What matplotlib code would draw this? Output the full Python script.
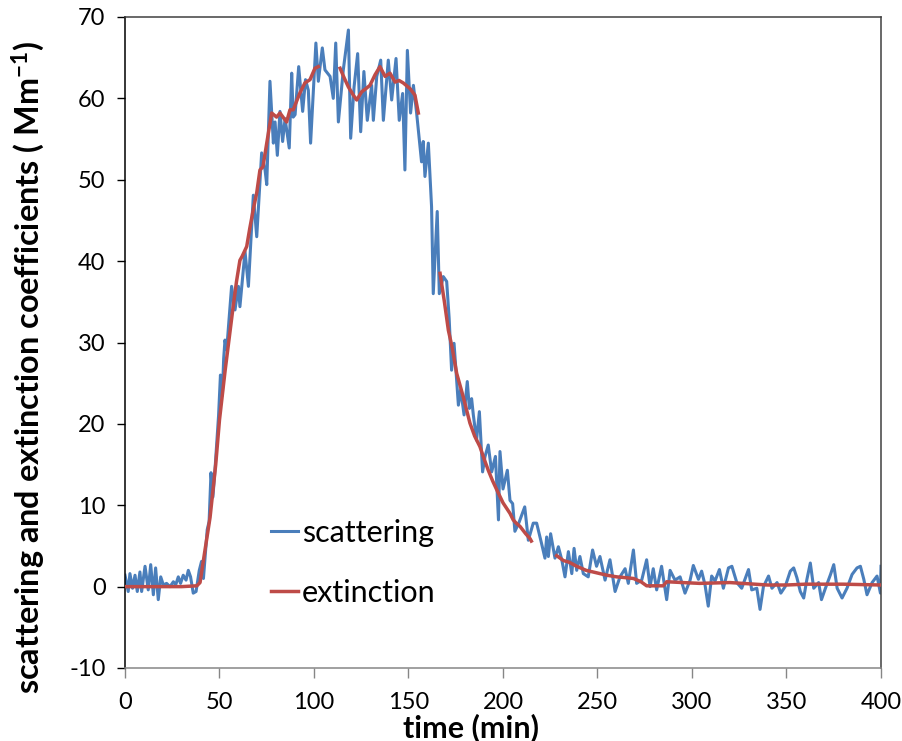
import numpy as np
import matplotlib
matplotlib.use('Agg')
import matplotlib.pyplot as plt

# scattering coefficient (time in min, value in Mm-1)
scat_t = [0, 1.7, 2.6, 4.0, 5.3, 6.5, 7.9, 8.8, 10.6, 12.3, 13.6, 15.0, 16.2, 17.6, 18.9, 20.3,
          22.0, 23.8, 25.6, 26.8, 28.2, 29.4, 30.8, 32.3, 33.5, 34.7, 36.1, 37.6, 39.3, 40.5,
          41.5, 42.5, 43.5, 44.5, 45.5, 46.5, 47.5, 48.5, 49.5, 50.5, 51.5, 52.2, 52.9, 53.8,
          56.4, 58.2, 60.0, 60.8, 63.5, 65.3, 67.9, 69.7, 72.3, 74.1, 75.0, 76.7, 78.5, 79.4,
          80.6, 82.0, 83.4, 84.7, 86.9, 88.2, 89.0, 90.0, 91.9, 94.0, 95.5, 97.0, 98.2, 101.0,
          102.3, 104.4, 105.8, 108.5, 110.2, 111.5, 112.9, 115.5, 118.2, 119.4, 121.2, 123.1,
          124.7, 126.4, 128.2, 130.5, 131.4, 133.2, 135.3, 136.7, 139.3, 141.1, 143.4, 145.1,
          146.9, 148.1, 149.4, 151.1, 152.6, 154.3, 155.7, 156.9, 157.8, 158.7, 160.5, 161.4,
          162.2, 163.1, 165.2, 166.3, 168.4, 170.2, 171.5, 172.8, 174.1, 176.4, 177.6, 179.4,
          181.1, 182.2, 183.4, 184.3, 186.0, 187.5, 189.2, 190.5, 192.2, 194.0, 196.0, 197.6,
          198.4, 200.0, 202.3, 203.7, 205.1, 206.3, 208.5, 211.5, 213.4, 216.0, 217.8, 220.4,
          222.2, 223.1, 224.0, 225.2, 227.5, 229.3, 231.1, 232.8, 234.6, 236.4, 237.6, 239.0,
          240.7, 242.5, 245.1, 247.4, 249.5, 251.3, 254.0, 256.6, 259.3, 261.9, 264.6, 266.3,
          269.0, 270.7, 273.4, 276.0, 277.8, 279.5, 281.3, 283.9, 286.6, 288.4, 291.0, 293.7,
          296.3, 299.0, 300.7, 303.4, 305.1, 306.9, 308.6, 310.4, 312.2, 314.5, 316.6, 319.3,
          321.1, 323.7, 326.3, 329.9, 331.6, 334.3, 336.0, 337.8, 340.5, 342.3, 345.0, 347.0,
          349.3, 352.0, 353.8, 355.5, 357.3, 359.1, 360.8, 362.6, 364.4, 367.0, 368.5, 370.6,
          373.3, 375.0, 376.8, 379.4, 382.0, 384.7, 387.3, 389.1, 390.9, 392.6, 395.3, 397.9,
          399.7, 400.0]
scat_v = [1.4, -0.6, 1.6, -0.2, 1.4, -0.6, 1.8, -0.6, 2.5, -0.4, 2.7, -1.0, 2.3, -1.6, 1.2, 0.2,
          0.4, 0.0, 0.6, 0.2, 1.2, 0.4, 1.4, 0.8, 2.0, 1.2, -0.8, -0.6, 2.0, 3.1,
          1.0, 4.0, 7.0, 8.0, 14.0, 11.0, 14.0, 17.5, 21.0, 26.0, 23.5, 28.0, 30.3, 29.1,
          36.9, 34.0, 36.9, 34.4, 41.2, 36.9, 48.1, 43.0, 53.3, 51.2, 49.4, 62.1, 54.5, 57.1,
          53.0, 58.4, 54.7, 57.5, 53.9, 63.1, 57.7, 58.0, 63.9, 58.4, 62.3, 61.0, 54.5, 66.8,
          62.1, 66.2, 63.5, 62.7, 60.0, 66.8, 57.1, 63.5, 68.4, 55.1, 61.4, 65.5,
          55.9, 63.3, 57.3, 61.6, 57.3, 62.7, 64.7, 57.3, 64.7, 59.8, 64.9, 57.3,
          60.6, 51.2, 65.9, 58.2, 61.6, 58.2, 54.9, 52.2, 54.7, 50.4, 54.5, 50.4,
          46.7, 36.0, 46.1, 36.0, 38.1, 37.5, 33.0, 26.6, 29.9, 22.3, 24.2, 21.1,
          25.2, 21.9, 23.1, 21.1, 18.0, 21.5, 14.1, 16.0, 17.4, 14.1, 16.0, 8.2,
          16.6, 12.0, 14.3, 10.6, 10.2, 6.8, 7.9, 9.8, 5.7, 7.8, 7.8, 5.3,
          3.5, 6.1, 3.7, 6.5, 3.5, 4.9, 3.3, 1.2, 4.3, 1.6, 4.7, 2.0,
          3.7, 1.6, 1.2, 4.5, 2.5, 3.7, 0.8, 3.3, -0.6, 1.2, 2.2, 0.4,
          4.5, 0.4, 0.8, 3.3, 0.0, 2.2, -0.4, 2.5, -1.6, 2.0, 0.8, 1.2,
          -0.8, 0.8, 2.6, 0.9, 1.9, 0.2, -2.4, 1.3, 0.7, 2.1, -0.2, 2.3,
          2.5, 0.5, -0.2, 2.1, -0.4, -0.2, -2.8, 0.0, 1.3, -0.2, 0.5, -0.8,
          0.0, 1.9, 2.3, 1.1, -0.6, -1.4, 0.9, 2.9, -0.2, 0.5, -1.6, -0.2,
          1.5, 2.7, -0.2, -1.4, -0.2, 1.5, 2.3, 2.5, 0.9, -1.0, 0.5, 1.3,
          -0.8, 2.5]

# extinction coefficient (gaps where no data)
ext_t = [0, 10, 20, 30, 38, 39.7, 42, 45, 48, 50, 53, 55, 57, 59, 60.8, 62, 64.4, 66, 68, 69.7,
         71.4, 73, 75, 77.6, 80.2, 82, 85.5, 87.3, 89, 92.6, 95.2, 97.9, 99, 100.5, 102.3,
         108, 113.8, 116, 118.2, 120.8, 122.6, 125.2, 127.5, 129.6, 132.3, 134.9, 137.6, 140.2,
         142.9, 145, 147.2, 150.8, 153.4, 155.2,
         160, 166.7, 169, 171.1, 173, 175.5, 179, 182.5, 185, 187.8, 190, 192.2, 194.5, 196.7,
         200, 203.7, 205.4, 207, 209, 212, 214.3, 215,
         220, 228.4, 232, 235, 239, 244, 251.3, 255, 260.2, 265, 269, 273, 276, 280, 284.8,
         286.6, 295, 304, 320, 340, 350, 360, 380, 400]
ext_v = [0, 0, 0, 0, 0.1, 0.5, 4.0, 8.5, 15.0, 20.5, 26.6, 30.3, 34.0, 37.5, 40.1, 40.6, 41.8,
         44.0, 46.5, 48.4,
         51.2, 51.6, 54.5, 58.2, 57.7, 58.2, 57.1, 58.6, 58.6, 60.7, 61.9, 62.3, 62.9, 63.7, 63.9,
         np.nan, 63.7, 62.5, 61.4, 60.4, 59.8, 60.8, 61.2, 61.6, 62.9, 63.9, 62.7, 63.1,
         62.0, 62.2, 61.9, 61.2, 60.4, 58.2,
         np.nan, 38.5, 35.0, 31.5, 29.5, 26.2, 23.3, 20.1, 18.5, 17.2, 15.7, 14.3, 13.0, 11.9,
         10.3, 9.0, 8.2, 7.8, 7.4, 6.5, 5.9, 5.6,
         np.nan, 3.8, 3.2, 3.0, 2.5, 2.0, 1.6, 1.4, 1.2, 1.1, 1.0, 0.6, 0.1, 0.1, 0.1,
         0.6, 0.5, 0.4, 0.5, 0.2, 0.2, 0.3, 0.3, 0.2]

x_ticks = [0, 50, 100, 150, 200, 250, 300, 350, 400]
y_ticks = [-10, 0, 10, 20, 30, 40, 50, 60, 70]

plt.rcParams['font.family'] = ['Lato', 'DejaVu Sans']
plt.rcParams['mathtext.default'] = 'regular'
plt.rcParams['axes.unicode_minus'] = False

fig = plt.figure(figsize=(9.03, 7.41), dpi=100)
ax = fig.add_axes([125 / 903, 73 / 741, 756 / 903, 651 / 741])

ax.plot(scat_t, scat_v, color='#4A7EBB', lw=2.2, label='scattering', zorder=2)
ax.plot(ext_t, ext_v, color='#BE4B48', lw=2.5, label='extinction', zorder=3)

ax.set_xlim(0, 400)
ax.set_ylim(-10, 70)
ax.set_xticks(x_ticks)
ax.set_yticks(y_ticks)
ax.tick_params(axis='y', direction='out', length=6, width=1, color='black',
               labelsize=17, pad=8)
ax.tick_params(axis='x', direction='out', length=7, width=1, color='#868686',
               labelsize=17, pad=10)

ax.spines['left'].set_color('black')
ax.spines['bottom'].set_color('#868686')
ax.spines['top'].set_color('#404040')
ax.spines['right'].set_color('#404040')
for s in ax.spines.values():
    s.set_linewidth(1.1)

ax.set_ylabel('scattering and extinction coefficients ( Mm$^{-1}$)',
              fontsize=23.3, fontweight='bold')
ax.yaxis.set_label_coords(-0.103, 0.462)
ax.set_xlabel('time (min)', fontsize=22, fontweight='bold')
ax.xaxis.set_label_coords(0.458, -0.070)

ax.legend(loc='upper left', bbox_to_anchor=(0.193, 0.229), frameon=False,
          fontsize=22, handlelength=0.9, handletextpad=0.12, labelspacing=1.05,
          borderpad=0, borderaxespad=0)

fig.savefig('out.png', dpi=100)
